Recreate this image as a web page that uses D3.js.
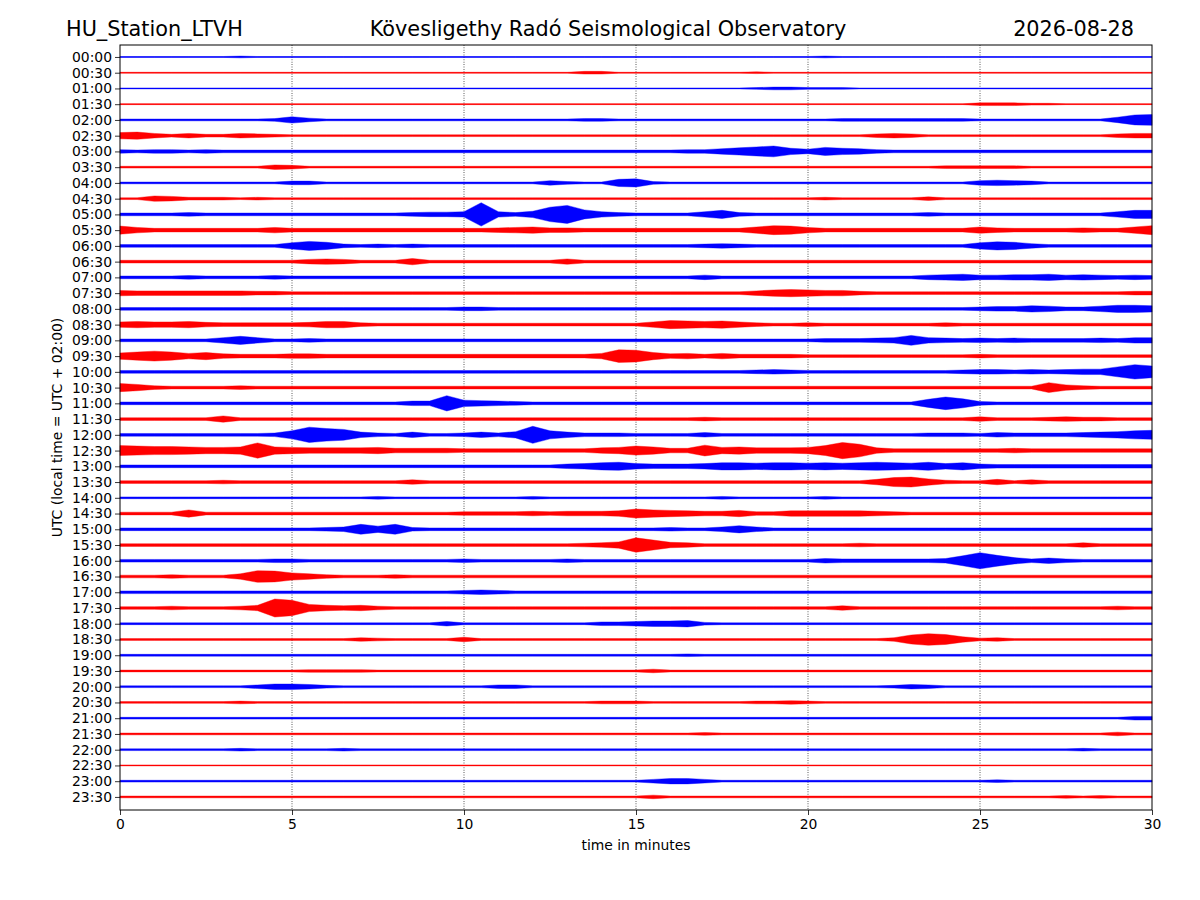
<!DOCTYPE html>
<html>
<head>
<meta charset="utf-8">
<script src="https://cdn.jsdelivr.net/npm/d3@7"></script>
<style>
  body { margin: 0; background: #fff; }
  text { font-family: "DejaVu Sans", sans-serif; }
</style>
</head>
<body>
<script>
// row labels (UTC start of each 30 min line)
var rowLabels = ["00:00", "00:30", "01:00", "01:30", "02:00", "02:30", "03:00", "03:30",
  "04:00", "04:30", "05:00", "05:30", "06:00", "06:30", "07:00", "07:30",
  "08:00", "08:30", "09:00", "09:30", "10:00", "10:30", "11:00", "11:30",
  "12:00", "12:30", "13:00", "13:30", "14:00", "14:30", "15:00", "15:30",
  "16:00", "16:30", "17:00", "17:30", "18:00", "18:30", "19:00", "19:30",
  "20:00", "20:30", "21:00", "21:30", "22:00", "22:30", "23:00", "23:30"];

var rowColors = ["#0000ff", "#ff0000"];

var xTicks = [0, 5, 10, 15, 20, 25, 30];

// trace envelope (half amplitude) every 30 s, 0..30 min, one base-36 digit per sample
var sampleStep = 0.5;
var traceEnvelopes = [
  "1111111211 1111111111 1111111111 1111111111 1211111111 1111111111 1",
  "1111111111 1111111111 1111111331 1111111211 1111111111 1111111111 1",
  "1111111111 1111111111 1111111111 1111111233 2221111111 1111111111 1",
  "1111111111 1111111111 1111111111 1111111111 1111111111 3332211111 1",
  "2222222223 7422222222 2222222332 2222222222 2233333333 222222226b c",
  "7853533543 2222222222 2222222222 2222222222 2222454222 2222222245 5",
  "4344343333 3333333333 3333333333 3334468ac7 5976433333 3333333333 3",
  "2222222225 4222222222 2222222222 2222222222 2222222233 3332222222 2",
  "2222222222 4422222222 2222253228 9322222222 2222222222 5654222222 2",
  "2265333232 2222222222 2222222222 2222222222 2322222422 2222222222 2",
  "3333433333 3333333455 6q647gka64 3333694333 3333333433 3333333369 9",
  "9644444446 4444444444 4456755444 44444447a9 6444444444 7544445447 a",
  "3333333333 7a84343433 3333333333 3333454333 3333333333 7985333333 3",
  "3333333333 3565333733 3333336333 3333333333 3333333333 3333333333 3",
  "3333433334 3333333333 3333333333 3333533333 3333333567 5566756545 4",
  "6555555544 3333333333 3333333333 3333333578 7664333333 3333333334 4",
  "3333333333 3333333333 4433333333 3333333333 3333333333 4557644688 7",
  "6766754444 4577433333 3333333333 3698786433 4333333343 3333333333 3",
  "3333336963 3433333333 3333333333 3333333333 344456b654 5454444546 6",
  "79b9685444 5544444444 444444446e d856464444 3333333333 4333333333 3",
  "3333333333 3333333333 3333333333 3333333454 3333333334 55454566bg d",
  "9743333433 3333333333 3333333333 3333333333 3333333333 3333b64333 3",
  "3333333333 333333355h 7654333333 3333333333 33333339ea 4333333333 3",
  "3333337333 3333333333 3333333333 3333433333 3333333333 5333454433 3",
  "3333333334 9hec643633 4647j96444 3333533333 3333333444 3544445679 a",
  "ba998778h8 7666675555 4444444467 a855c78666 7bie644444 4454444444 4",
  "3333333333 3333333333 3333335689 6555688788 7878987968 5444444444 4",
  "3333334333 3333333533 3333333333 3333333333 33336ab743 3635333333 3",
  "2222222222 2222232222 2222322222 2222232222 2322222222 2222222222 2",
  "3333833333 3333333333 4444545556 a876557446 6666543333 3333333333 3",
  "3333333333 3345b7b433 3333333333 3343358533 3333333333 3333333333 3",
  "3333333333 3333333333 3333333457 gb65333333 3334333333 3333335333 3",
  "3333333334 4333333333 4333334333 3333333333 354444445b ic74643333 3",
  "33343336dc 8643334333 3333333333 3333333333 3333333333 3333333333 3",
  "3333333333 3333333333 4543333333 3333333333 3333333333 3333333333 3",
  "333433346k h865643333 3333333333 3333333333 3353333333 3333333343 3",
  "2222222222 2222222225 2222222244 5667322222 2222222222 2222222222 2",
  "2222222222 2222432222 5222222222 2222222222 222224adb6 3422222222 2",
  "2222222222 2222222222 2222222222 2223222222 2222222222 2222222222 2",
  "2222222222 2333322222 2222222222 2422222222 2222222222 2222222222 2",
  "2222222246 6532222222 2244222222 2222222222 2222235422 2222222222 2",
  "2222222322 2222222222 2222222233 3222222334 3222222222 2222222222 2",
  "2222222222 2222222222 2222222222 2222222222 2222222222 2222222224 4",
  "2222222222 2222222222 2222222222 2222322222 2222222222 2222222242 2",
  "2222222322 2223222222 2222222222 2222222222 2222222222 2222223222 2",
  "1111111111 1111111111 1111111111 1111111111 1111111111 1111111111 1",
  "2222222222 2222222222 2222222222 2466422222 2222222222 2322222222 2",
  "2222222222 2222222222 2222222222 2422222222 2222222222 2222232322 2"
];

var margin = { top: 45, right: 48, bottom: 90, left: 120 },
  width = 1200 - margin.left - margin.right,
  height = 900 - margin.top - margin.bottom;

var root = d3.select("body").append("svg")
  .attr("width", 1200)
  .attr("height", 900);

var svg = root.append("g")
  .attr("transform", "translate(" + margin.left + "," + margin.top + ")");

var x = d3.scaleLinear().domain([0, 30]).range([0, width]);
var y = d3.scaleLinear().domain([-0.76, 47.83]).range([0, height]);
var amp = d3.scaleLinear().domain([0, 1]).range([0, 0.45]);

// dotted vertical grid
svg.selectAll(".grid")
  .data(xTicks.slice(1, -1))
  .enter().append("line")
  .attr("x1", function (d) { return x(d); })
  .attr("x2", function (d) { return x(d); })
  .attr("y1", 0)
  .attr("y2", height)
  .attr("stroke", "#000")
  .attr("stroke-width", 0.8)
  .attr("stroke-dasharray", "0.8,1.6");

// traces
var rows = traceEnvelopes.map(function (s, i) {
  var vals = s.replace(/ /g, "").split("").map(function (c) { return parseInt(c, 36); });
  return { row: i, values: vals.map(function (v, k) { return { t: k * sampleStep, v: v }; }) };
});

var band = d3.area()
  .x(function (d) { return x(d.t); })
  .y0(function (d) { return -amp(d.v); })
  .y1(function (d) { return amp(d.v); });

var traces = svg.selectAll(".trace")
  .data(rows)
  .enter().append("g")
  .attr("transform", function (d) { return "translate(0," + y(d.row) + ")"; });

traces.append("path")
  .attr("d", function (d) { return band(d.values); })
  .attr("fill", function (d) { return rowColors[d.row % 2]; })
  .attr("stroke", function (d) { return rowColors[d.row % 2]; })
  .attr("stroke-width", 0.4);

traces.append("line")
  .attr("x1", 0)
  .attr("x2", width)
  .attr("stroke", function (d) { return rowColors[d.row % 2]; })
  .attr("stroke-width", 0.7);

// axes
var yAxis = svg.append("g")
  .call(d3.axisLeft(y)
    .tickValues(d3.range(rowLabels.length))
    .tickFormat(function (i) { return rowLabels[i]; })
    .tickSize(5)
    .tickPadding(3));

var xAxis = svg.append("g")
  .attr("transform", "translate(0," + height + ")")
  .call(d3.axisBottom(x)
    .tickValues(xTicks)
    .tickFormat(d3.format("d"))
    .tickSize(5)
    .tickPadding(4));

[yAxis, xAxis].forEach(function (a) {
  a.select(".domain").remove();
  a.selectAll("text")
    .style("font-family", "DejaVu Sans, sans-serif")
    .style("font-size", "13.9px")
    .attr("fill", "#000");
  a.selectAll("line").attr("stroke", "#000").attr("stroke-width", 0.8);
});

svg.append("rect")
  .attr("width", width)
  .attr("height", height)
  .attr("fill", "none")
  .attr("stroke", "#000")
  .attr("stroke-width", 1);

// labels
svg.append("text")
  .attr("x", width / 2)
  .attr("y", height + 40)
  .attr("text-anchor", "middle")
  .style("font-size", "13.9px")
  .text("time in minutes");

svg.append("text")
  .attr("transform", "translate(-58," + height / 2 + ") rotate(-90)")
  .attr("text-anchor", "middle")
  .style("font-size", "13.9px")
  .text("UTC (local time = UTC + 02:00)");

// titles
root.append("text")
  .attr("x", 66).attr("y", 36)
  .style("font-size", "20.8px")
  .text("HU_Station_LTVH");

root.append("text")
  .attr("x", 608).attr("y", 36)
  .attr("text-anchor", "middle")
  .style("font-size", "20.8px")
  .text("Kövesligethy Radó Seismological Observatory");

root.append("text")
  .attr("x", 1134).attr("y", 36)
  .attr("text-anchor", "end")
  .style("font-size", "20.8px")
  .text("2026-08-28");
</script>
</body>
</html>
